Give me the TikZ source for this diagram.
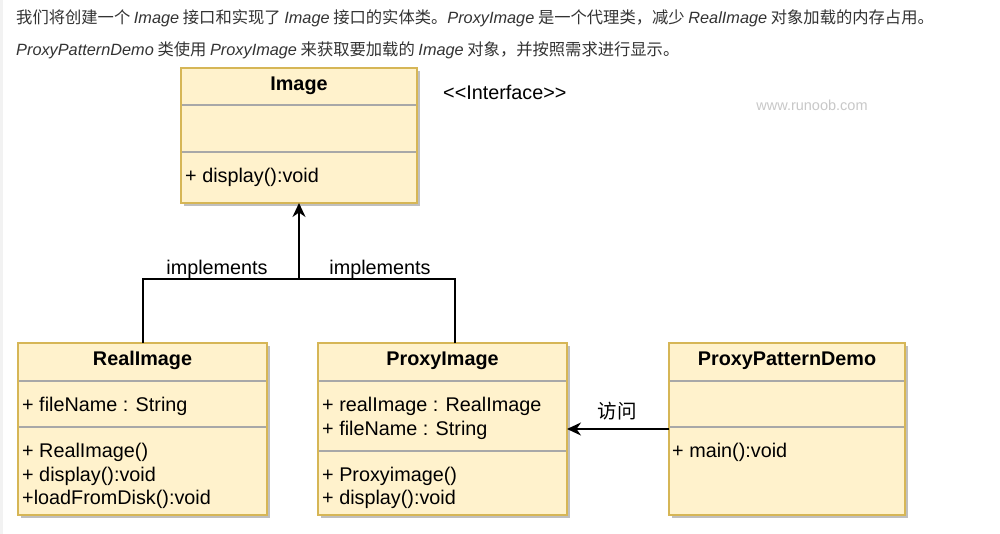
\documentclass[tikz,border=0pt]{standalone}
\usepackage{fontspec}
\setmainfont{Liberation Sans}
\newfontfamily\cjk{Noto Sans CJK SC}
\usetikzlibrary{shadows,arrows.meta,calc}
\definecolor{boxfill}{HTML}{FFF2CC}
\definecolor{boxline}{HTML}{D6B656}
\definecolor{divline}{HTML}{A8A8A8}
\definecolor{toptext}{HTML}{333333}
\definecolor{wm}{HTML}{C8C8C8}
\definecolor{edge}{HTML}{F2F2F2}
\newcommand\lat[1]{{\normalfont\itshape #1}}
\tikzset{
 cls/.style={draw=boxline, fill=boxfill, line width=2pt, inner sep=0pt, outer sep=0pt, anchor=north west,
   drop shadow={shadow xshift=3pt, shadow yshift=-3pt, fill=black!25, opacity=1}},
 divider/.style={draw=divline, line width=1.3pt, shorten <=1pt, shorten >=1pt},
 title/.style={font=\fontsize{19.8}{23}\selectfont\bfseries, inner sep=0pt, text height=0.73em, text depth=0.21em, yshift=-4.5pt},
 member/.style={font=\fontsize{19.8}{23}\selectfont, inner sep=0pt, anchor=west, text height=0.73em, text depth=0.21em, yshift=-4.5pt},
 conn/.style={line width=2pt, draw=black},
 lbl/.style={font=\fontsize{19.8}{23}\selectfont, inner sep=0pt, text height=0.73em, text depth=0.21em, yshift=-4.5pt},
 cjklbl/.style={font=\fontsize{19.5}{22}\selectfont\cjk, inner sep=0pt, text height=0.88em, text depth=0.12em, yshift=-3pt},
 intro/.style={font=\fontsize{16.3}{20}\selectfont\cjk, text=toptext, inner sep=0pt, anchor=west, text height=0.88em, text depth=0.12em, yshift=-2.5pt},
 tip/.style={-{Stealth[length=14pt,width=13pt,inset=4.5pt]}},
}
\begin{document}
\begin{tikzpicture}[x=1pt,y=-1pt]
\useasboundingbox (0,0) rectangle (1000,534);
\fill[white] (0,0) rectangle (1000,534);
\fill[edge] (0,0) rectangle (3,534);

% intro text
\node[intro] (t1) at (16,17) {我们将创建一个 \lat{Image} 接口和实现了 \lat{Image} 接口的实体类。\lat{ProxyImage} 是一个代理类，减少 \lat{RealImage} 对象加载的内存占用。};
\node[intro] (t2) at (16,49) {\lat{ProxyPatternDemo} 类使用 \lat{ProxyImage} 来获取要加载的 \lat{Image} 对象，并按照需求进行显示。};

% Image
\node[cls, minimum width=236pt, minimum height=135pt] (image) at (181,68) {};
\draw[divider] (image.west |- 0,105) -- (image.east |- 0,105);
\draw[divider] (image.west |- 0,152) -- (image.east |- 0,152);
\node[title] (imaget) at (image.north |- 0,83) {Image};
\node[member] (imagem) at (185,175) {+ display():void};

\node[lbl, anchor=west] (iface) at (443,92) {<{}<Interface>{}>};
\node[font=\fontsize{14.5}{17}\selectfont, text=wm, inner sep=0pt] (wmk) at (812,105) {www.runoob.com};

% RealImage
\node[cls, minimum width=249pt, minimum height=172pt] (real) at (18,343) {};
\draw[divider] (real.west |- 0,381) -- (real.east |- 0,381);
\draw[divider] (real.west |- 0,427) -- (real.east |- 0,427);
\node[title] (realt) at (real.north |- 0,358) {RealImage};
\node[member] (reala) at (22,404) {+ fileName : String};
\node[member] (realm1) at (22,450) {+ RealImage()};
\node[member] (realm2) at (22,474) {+ display():void};
\node[member] (realm3) at (22,497) {+loadFromDisk():void};

% ProxyImage
\node[cls, minimum width=249pt, minimum height=172pt] (proxy) at (318,343) {};
\draw[divider] (proxy.west |- 0,381) -- (proxy.east |- 0,381);
\draw[divider] (proxy.west |- 0,451) -- (proxy.east |- 0,451);
\node[title] (proxyt) at (proxy.north |- 0,358) {ProxyImage};
\node[member] (proxya1) at (322,404) {+ realImage : RealImage};
\node[member] (proxya2) at (322,428) {+ fileName : String};
\node[member] (proxym1) at (322,474) {+ Proxyimage()};
\node[member] (proxym2) at (322,497) {+ display():void};

% ProxyPatternDemo
\node[cls, minimum width=236pt, minimum height=172pt] (demo) at (669,343) {};
\draw[divider] (demo.west |- 0,381) -- (demo.east |- 0,381);
\draw[divider] (demo.west |- 0,427) -- (demo.east |- 0,427);
\node[title] (demot) at (demo.north |- 0,358) {ProxyPatternDemo};
\node[member] (demom) at (672,450) {+ main():void};

% implements connectors
\coordinate (hub) at (image.south |- 0,279);
\draw[conn, tip] (real.north) |- (hub) -- (image.south);
\draw[conn] (proxy.north -| 455,0) |- (hub);
\node[lbl] (impl1) at (217,267) {implements};
\node[lbl] (impl2) at (380,267) {implements};

% access
\draw[conn, tip] (demo.west) -- (proxy.east);
\node[cjklbl] (acc) at (617,412) {访问};
\end{tikzpicture}
\end{document}
